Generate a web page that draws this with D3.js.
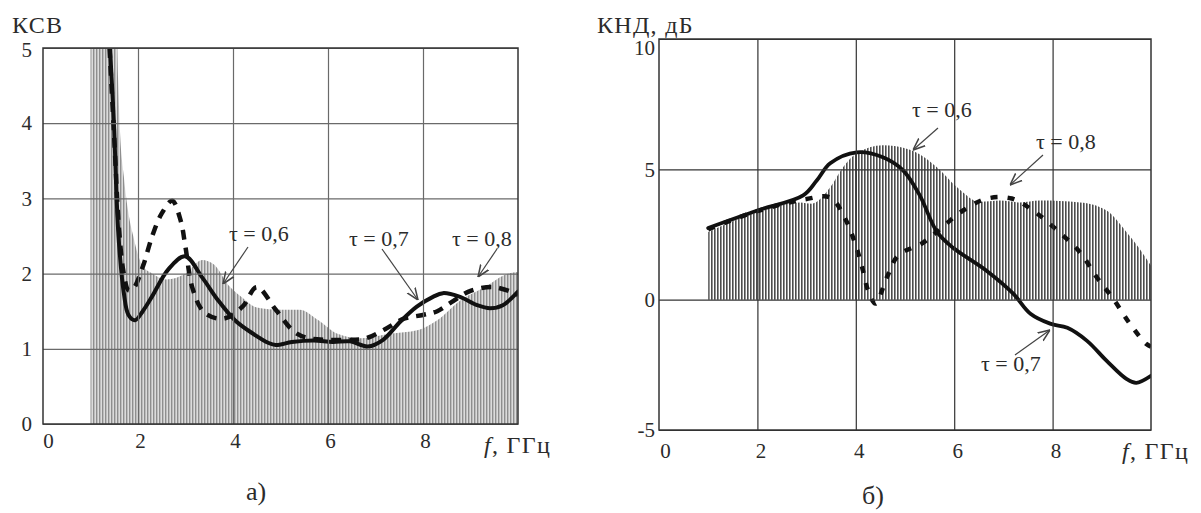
<!DOCTYPE html>
<html>
<head>
<meta charset="utf-8">
<script src="https://cdn.jsdelivr.net/npm/d3@7/dist/d3.min.js"></script>
<style>
  html, body { margin: 0; padding: 0; background: #fff; }
  svg { display: block; }
  text { font-family: "Liberation Serif", "Times New Roman", serif; fill: #2b2b2b; }
</style>
</head>
<body>
<svg id="chart" width="1201" height="513"></svg>
<script>
// ---------- data ----------
const freqTicks = [0, 2, 4, 6, 8, 10];
const vswrTicks = [0, 1, 2, 3, 4, 5];
const gainTicks = [-5, 0, 5, 10];

// Panel a) VSWR (КСВ) vs frequency, GHz
const vswrTau06 = [[1.0, 5.3], [1.55, 5.3], [1.58, 4.6], [1.62, 3.9], [1.7, 3.3], [1.8, 2.8], [1.9, 2.5], [2.0, 2.25], [2.1, 2.1], [2.3, 2.0], [2.6, 1.92], [3.0, 2.0], [3.35, 2.18], [3.6, 2.12], [3.9, 1.85], [4.2, 1.68], [4.5, 1.55], [5.0, 1.52], [5.4, 1.52], [5.8, 1.38], [6.2, 1.2], [6.7, 1.14], [7.3, 1.2], [7.9, 1.25], [8.3, 1.38], [8.8, 1.65], [9.3, 1.82], [9.8, 2.0], [10.0, 2.02]];
const vswrTau07 = [[1.41, 5.0], [1.5, 3.9], [1.55, 3.0], [1.6, 2.4], [1.7, 1.75], [1.8, 1.45], [1.94, 1.38], [2.1, 1.5], [2.3, 1.7], [2.63, 2.05], [2.99, 2.23], [3.35, 1.95], [3.68, 1.65], [4.04, 1.38], [4.4, 1.21], [4.74, 1.08], [4.9, 1.05], [5.24, 1.09], [5.7, 1.11], [6.1, 1.09], [6.46, 1.1], [6.84, 1.03], [7.16, 1.12], [7.52, 1.36], [7.87, 1.56], [8.21, 1.69], [8.42, 1.74], [8.78, 1.69], [9.14, 1.58], [9.41, 1.54], [9.68, 1.58], [10.0, 1.76]];
const vswrTau08 = [[1.40, 5.0], [1.5, 3.8], [1.6, 2.6], [1.7, 2.0], [1.8, 1.78], [1.9, 1.8], [2.1, 2.09], [2.3, 2.5], [2.5, 2.8], [2.72, 2.97], [2.9, 2.7], [3.0, 2.35], [3.15, 1.8], [3.4, 1.48], [3.8, 1.4], [4.2, 1.56], [4.5, 1.82], [4.9, 1.52], [5.3, 1.22], [5.6, 1.14], [6.0, 1.12], [6.5, 1.12], [6.8, 1.14], [7.2, 1.26], [7.6, 1.4], [8.0, 1.45], [8.3, 1.5], [8.6, 1.62], [9.0, 1.77], [9.5, 1.82], [10.0, 1.72]];

// Panel б) directivity (КНД, дБ) vs frequency, GHz
const gainTau06 = [[1.0, 2.6], [2.0, 3.35], [2.87, 3.73], [3.1, 3.68], [3.48, 4.31], [3.74, 5.08], [4.02, 5.62], [4.55, 5.92], [5.1, 5.75], [5.65, 5.08], [6.06, 4.31], [6.52, 3.75], [6.93, 3.8], [7.34, 3.73], [7.74, 3.8], [8.56, 3.73], [9.1, 3.42], [9.5, 2.6], [9.75, 2.0], [10.0, 1.3]];
const gainTau07 = [[1.0, 2.75], [2.0, 3.42], [2.93, 4.0], [3.21, 4.58], [3.48, 5.23], [4.02, 5.65], [4.55, 5.46], [4.96, 4.96], [5.3, 4.0], [5.65, 2.6], [5.97, 2.0], [6.65, 1.12], [7.2, 0.23], [7.55, -0.54], [7.95, -0.92], [8.3, -1.08], [8.7, -1.58], [9.1, -2.35], [9.5, -3.04], [9.7, -3.19], [10.0, -2.92]];
const gainTau08 = [[1.0, 2.7], [2.0, 3.4], [2.97, 3.85], [3.48, 3.92], [3.78, 3.12], [3.98, 2.19], [4.13, 1.23], [4.25, 0.35], [4.4, -0.15], [4.63, 0.85], [4.86, 1.69], [5.37, 2.19], [5.75, 2.77], [6.18, 3.42], [6.67, 3.88], [7.17, 3.88], [7.6, 3.42], [8.1, 2.65], [8.56, 1.81], [8.9, 0.85], [9.23, 0.04], [9.57, -0.92], [9.9, -1.69], [10.0, -1.8]];

const tauLabels = ["τ = 0,6", "τ = 0,7", "τ = 0,8"];

// ---------- drawing ----------
const svg = d3.select("#chart");
const defs = svg.append("defs");

function stripePattern(id, bg, stripe, w) {
  const p = defs.append("pattern").attr("id", id).attr("patternUnits", "userSpaceOnUse")
    .attr("width", 3).attr("height", 10);
  p.append("rect").attr("width", 3).attr("height", 10).attr("fill", bg);
  p.append("rect").attr("x", 0).attr("width", w).attr("height", 10).attr("fill", stripe);
}
stripePattern("hatchA", "#dcdcdc", "#8e8e8e", 1.4);
stripePattern("hatchB", "#ffffff", "#4d4d4d", 1.6);

defs.append("marker").attr("id", "arrow").attr("viewBox", "0 0 10 10")
  .attr("refX", 10).attr("refY", 5).attr("markerWidth", 12).attr("markerHeight", 12)
  .attr("markerUnits", "userSpaceOnUse").attr("orient", "auto")
  .append("path").attr("d", "M0,1 L10,5 L0,9").attr("fill", "none").attr("stroke", "#444").attr("stroke-width", 1.3);

function panel(cfg) {
  const x = d3.scaleLinear().domain([0, 10]).range(cfg.xr);
  const y = d3.scaleLinear().domain(cfg.yd).range(cfg.yr);
  const g = svg.append("g");
  const clipId = cfg.id + "clip";
  defs.append("clipPath").attr("id", clipId).append("rect")
    .attr("x", cfg.xr[0]).attr("y", cfg.yr[1]).attr("width", cfg.xr[1] - cfg.xr[0]).attr("height", cfg.yr[0] - cfg.yr[1]);

  const plot = g.append("g").attr("clip-path", `url(#${clipId})`);
  // hatched area (τ = 0,6)
  const area = d3.area().x(d => x(d[0])).y0(y(cfg.base)).y1(d => y(d[1])).curve(d3.curveMonotoneX);
  plot.append("path").datum(cfg.hatch).attr("d", area).attr("fill", `url(#${cfg.pattern})`);

  // grid
  g.append("g").attr("transform", `translate(0,${cfg.yr[0]})`)
    .call(d3.axisBottom(x).tickValues(cfg.xt).tickSize(-(cfg.yr[0] - cfg.yr[1])).tickFormat(""))
    .call(s => s.select(".domain").remove())
    .call(s => s.selectAll("line").attr("stroke", cfg.gridColor).attr("stroke-width", 1.2));
  g.append("g").attr("transform", `translate(${cfg.xr[0]},0)`)
    .call(d3.axisLeft(y).tickValues(cfg.yt).tickSize(-(cfg.xr[1] - cfg.xr[0])).tickFormat(""))
    .call(s => s.select(".domain").remove())
    .call(s => s.selectAll("line").attr("stroke", cfg.gridColor).attr("stroke-width", 1.2));
  // frame
  g.append("rect").attr("x", cfg.xr[0]).attr("y", cfg.yr[1]).attr("width", cfg.xr[1] - cfg.xr[0])
    .attr("height", cfg.yr[0] - cfg.yr[1]).attr("fill", "none").attr("stroke", "#333").attr("stroke-width", 1.5);

  const line = d3.line().x(d => x(d[0])).y(d => y(d[1])).curve(d3.curveCatmullRom.alpha(0.5));
  plot.append("path").datum(cfg.dashed).attr("d", line).attr("fill", "none")
    .attr("stroke", "#111").attr("stroke-width", cfg.dashW).attr("stroke-dasharray", cfg.dash);
  plot.append("path").datum(cfg.solid).attr("d", line).attr("fill", "none")
    .attr("stroke", "#111").attr("stroke-width", cfg.solidW).attr("stroke-linejoin", "round").attr("stroke-linecap", "round");

  // tick labels
  g.append("g").attr("transform", `translate(${cfg.xr[0]},0)`)
    .call(d3.axisLeft(y).tickValues(cfg.yt).tickSize(0).tickPadding(cfg.yPad).tickFormat(d => String(d)))
    .call(s => s.select(".domain").remove())
    .call(s => s.selectAll("text").attr("font-size", 21).attr("fill", "#2b2b2b")
      .attr("font-family", '"Liberation Serif", serif')
      .attr("dy", d => d === cfg.yd[1] ? cfg.topDy : "0.32em"));
  g.append("g").attr("transform", `translate(0,${cfg.yr[0]})`)
    .call(d3.axisBottom(x).tickValues(cfg.xt.concat([0])).tickSize(0).tickFormat(d => String(d)))
    .call(s => s.select(".domain").remove())
    .call(s => s.selectAll("text").attr("font-size", 21).attr("fill", "#2b2b2b")
      .attr("font-family", '"Liberation Serif", serif')
      .attr("y", cfg.xLabY).attr("dy", 0)
      .attr("dx", d => d === 0 ? cfg.zeroDx : cfg.tickDx));

  // axis titles
  g.append("text").attr("x", cfg.yTitle[0]).attr("y", cfg.yTitle[1]).attr("font-size", 24)
    .attr("letter-spacing", 1.3).text(cfg.yTitleText);
  const xt = g.append("text").attr("x", cfg.xTitle[0]).attr("y", cfg.xTitle[1]).attr("font-size", 24).attr("letter-spacing", 1.3);
  xt.append("tspan").attr("font-style", "italic").text("f");
  xt.append("tspan").text(", ГГц");
  g.append("text").attr("x", cfg.caption[0]).attr("y", cfg.caption[1]).attr("font-size", 26).text(cfg.captionText);

  // annotations
  cfg.notes.forEach(n => {
    g.append("text").attr("x", n.tx).attr("y", n.ty).attr("font-size", 22).attr("fill", "#3a3a3a").text(tauLabels[n.i]);
    g.append("line").attr("x1", n.a[0]).attr("y1", n.a[1]).attr("x2", n.a[2]).attr("y2", n.a[3])
      .attr("stroke", "#444").attr("stroke-width", 1.2).attr("marker-end", "url(#arrow)");
  });
}

panel({
  id: "a", xr: [43, 518], yd: [0, 5], yr: [424, 48], base: 0,
  xt: freqTicks.filter(d => d > 0 && d < 10), yt: vswrTicks.filter(d => d > 0 && d < 5).concat([0, 5]),
  hatch: vswrTau06, solid: vswrTau07, dashed: vswrTau08, pattern: "hatchA",
  gridColor: "#6a6a6a", solidW: 4, dashW: 4.5, dash: "10,8",
  yPad: 11, topDy: "0.40em", xLabY: 24, zeroDx: 5, tickDx: 2,
  yTitle: [12, 33], yTitleText: "КСВ", xTitle: [484, 453], caption: [246, 500], captionText: "а)",
  notes: [
    { i: 0, tx: 229, ty: 241, a: [248, 247, 223, 284] },
    { i: 1, tx: 349, ty: 246, a: [382, 249, 418, 300] },
    { i: 2, tx: 452, ty: 246, a: [497, 249, 478, 277] }
  ]
});

panel({
  id: "b", xr: [659, 1151], yd: [-5, 10], yr: [430, 39], base: 0,
  xt: freqTicks.filter(d => d > 0 && d < 10), yt: gainTicks,
  hatch: gainTau06, solid: gainTau07, dashed: gainTau08, pattern: "hatchB",
  gridColor: "#333", solidW: 3.8, dashW: 4.5, dash: "7,10",
  yPad: 4, topDy: "0.75em", xLabY: 28, zeroDx: 6, tickDx: 3,
  yTitle: [597, 33], yTitleText: "КНД, дБ", xTitle: [1122, 459], caption: [862, 504], captionText: "б)",
  notes: [
    { i: 0, tx: 912, ty: 117, a: [938, 128, 913, 150] },
    { i: 2, tx: 1036, ty: 149, a: [1043, 155, 1010, 185] },
    { i: 1, tx: 981, ty: 371, a: [1015, 355, 1050, 330] }
  ]
});
</script>
</body>
</html>
